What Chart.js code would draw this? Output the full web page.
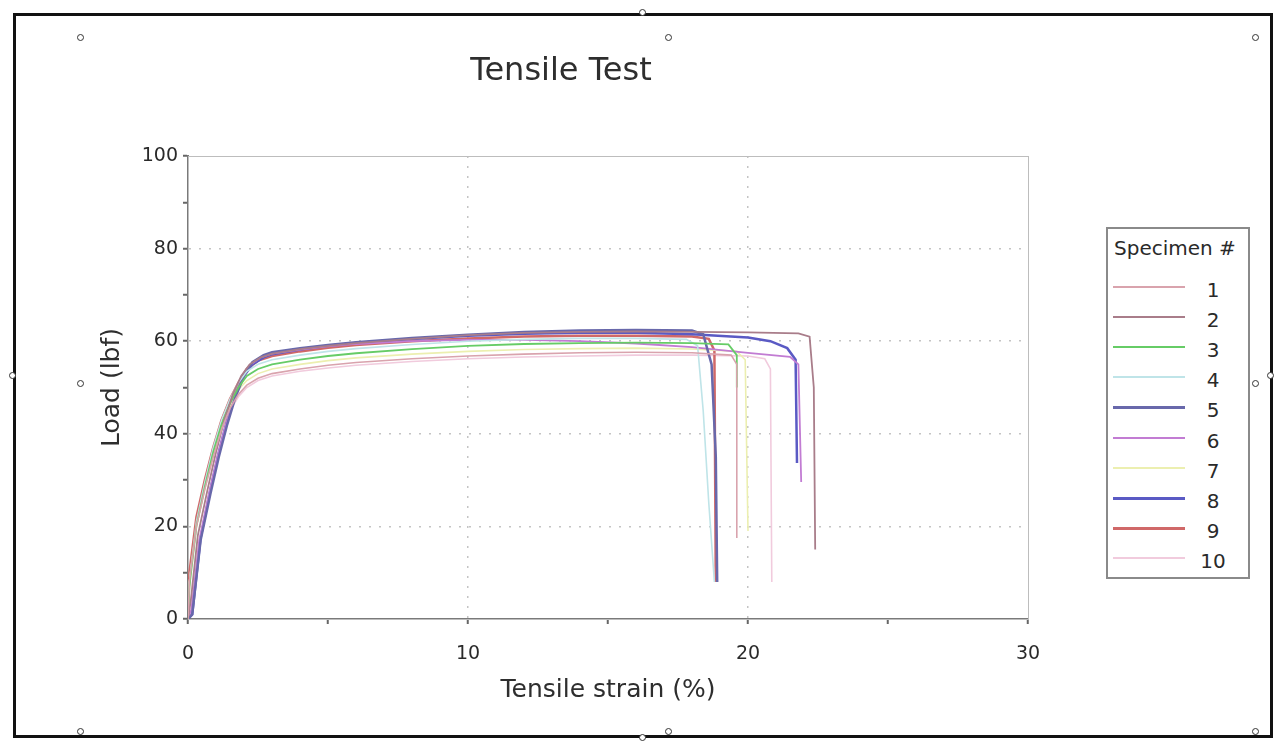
<!DOCTYPE html>
<html>
<head>
<meta charset="utf-8">
<title>Tensile Test</title>
<script src="https://cdn.jsdelivr.net/npm/chart.js@4.4.1/dist/chart.umd.min.js"></script>
<style>
  html, body { margin: 0; padding: 0; background: #fff; }
  body { width: 1286px; height: 750px; position: relative; overflow: hidden; font-family: "DejaVu Sans", sans-serif; }
  #frame { position: absolute; left: 13px; top: 13px; width: 1254px; height: 719px; border: 3px solid #111; }
  #wrap { position: absolute; left: 0; top: 0; width: 1286px; height: 750px; }
  .handle { position: absolute; width: 5px; height: 5px; margin: -4px 0 0 -4px; border: 1.5px solid #333; border-radius: 50%; background: #fff; }
  #legend { position: absolute; left: 1106px; top: 227px; width: 140px; height: 348px; border: 2px solid #8a8a8a; background: #fff; color: #2a2a2a; }
  #legend .ttl { position: absolute; left: 6px; top: 7px; font-size: 20px; white-space: nowrap; }
  #legend .row { position: absolute; left: 0; width: 140px; height: 30px; }
  #legend .ln { position: absolute; left: 5px; width: 72px; top: 11px; }
  #legend .num { position: absolute; left: 88px; width: 34px; top: 3px; text-align: center; font-size: 20px; }
</style>
</head>
<body>
<div id="wrap"><canvas id="chart" width="1286" height="750"></canvas></div>
<div id="frame"></div>
<div id="legend"><div class="ttl">Specimen #</div></div>
<script>
// Specimen curves: strain (%) and load (lbf)
const strain1 = [0, 0.05, 0.3, 0.6, 0.9, 1.2, 1.5, 1.8, 2.1, 2.5, 3, 4, 5, 6, 8, 10, 12, 14, 16, 18, 19.4, 19.6, 19.6];
const load1 = [0, 8, 20, 28, 35, 41, 45.5, 48.5, 50.5, 52, 53, 54, 54.8, 55.4, 56.2, 56.8, 57.2, 57.5, 57.6, 57.5, 57, 55, 17.5];

const strain2 = [0, 0.1, 0.35, 0.7, 1.0, 1.3, 1.6, 1.9, 2.2, 2.6, 3, 4, 5, 6, 8, 10, 12, 14, 16, 18, 20, 21.8, 22.2, 22.35, 22.4];
const load2 = [0, 4, 18, 28, 36, 43, 48.5, 52.5, 55, 56.5, 57.3, 58.3, 59, 59.6, 60.5, 61.3, 61.8, 62, 62.1, 62, 61.9, 61.7, 61, 50, 15];

const strain3 = [0, 0.05, 0.3, 0.6, 0.9, 1.2, 1.5, 1.8, 2.1, 2.5, 3, 4, 5, 6, 8, 10, 12, 14, 16, 18, 19.3, 19.6, 19.6];
const load3 = [0, 7, 20, 28.5, 36, 42, 46.5, 50, 52.5, 54, 55, 56, 56.8, 57.4, 58.3, 59, 59.4, 59.6, 59.7, 59.6, 59.3, 57, 50];

const strain4 = [0, 0.05, 0.3, 0.6, 0.9, 1.2, 1.5, 1.8, 2.1, 2.5, 3, 4, 5, 6, 8, 10, 12, 14, 16, 17.8, 18.2, 18.4, 18.6, 18.8];
const load4 = [0, 8, 21, 29.5, 37, 43, 47.5, 51, 53.5, 55, 56, 57, 57.8, 58.4, 59.3, 60, 60.4, 60.6, 60.6, 60.4, 59, 45, 25, 8];

const strain5 = [0, 0.15, 0.45, 0.8, 1.1, 1.4, 1.7, 2.0, 2.3, 2.7, 3, 4, 5, 6, 8, 10, 12, 14, 16, 18, 18.4, 18.7, 18.85, 18.9];
const load5 = [0, 1, 17, 27, 35, 42, 48, 52.5, 55.5, 57, 57.6, 58.5, 59.2, 59.8, 60.7, 61.4, 62, 62.3, 62.4, 62.3, 61.5, 55, 35, 8];

const strain6 = [0, 0.12, 0.4, 0.75, 1.05, 1.35, 1.65, 1.95, 2.25, 2.6, 3, 4, 5, 6, 8, 10, 12, 14, 16, 18, 20, 21.5, 21.8, 21.9];
const load6 = [0, 2, 17, 27, 35, 42, 47.5, 52, 55, 56.5, 57.3, 58.2, 58.9, 59.4, 60, 60.3, 60.3, 60, 59.5, 58.7, 57.5, 56.6, 55, 29.6];

const strain7 = [0, 0.05, 0.3, 0.6, 0.9, 1.2, 1.5, 1.8, 2.1, 2.5, 3, 4, 5, 6, 8, 10, 12, 14, 16, 18, 19.6, 19.9, 20.0];
const load7 = [0, 8, 20, 28, 35.5, 41.5, 46, 49.5, 51.5, 53, 54, 55, 55.8, 56.4, 57.2, 57.8, 58.2, 58.4, 58.5, 58.3, 57.8, 56, 19];

const strain8 = [0, 0.15, 0.45, 0.8, 1.1, 1.4, 1.7, 2.0, 2.3, 2.7, 3, 4, 5, 6, 8, 10, 12, 14, 16, 18, 20, 20.8, 21.4, 21.7, 21.75];
const load8 = [0, 1, 17.5, 28, 36, 43, 48.5, 52.5, 55, 56.5, 57.2, 58.2, 59, 59.6, 60.5, 61.2, 61.6, 61.8, 61.8, 61.5, 60.8, 60, 58.5, 56, 33.7];

const strain9 = [0, 0.05, 0.3, 0.6, 0.9, 1.2, 1.5, 1.8, 2.1, 2.5, 3, 4, 5, 6, 8, 10, 12, 14, 16, 18, 18.6, 18.8, 18.85];
const load9 = [0, 10, 22, 30, 37, 43, 47.5, 51, 54, 55.8, 56.8, 57.8, 58.6, 59.2, 60, 60.6, 61, 61.2, 61.2, 61, 60.5, 58, 8];

const strain10 = [0, 0.05, 0.3, 0.6, 0.9, 1.2, 1.5, 1.8, 2.1, 2.5, 3, 4, 5, 6, 8, 10, 12, 14, 16, 18, 20, 20.6, 20.8, 20.85];
const load10 = [0, 9, 21, 29, 35.5, 41, 45, 48, 50, 51.5, 52.5, 53.5, 54.2, 54.8, 55.6, 56.2, 56.6, 56.8, 57, 57, 56.8, 56.2, 54, 8];

const specimenNames = ['1', '2', '3', '4', '5', '6', '7', '8', '9', '10'];
const specimenColors = ['#d9a3ad', '#a97d8a', '#66cc66', '#bfe4e8', '#6868ab', '#c27cd3', '#ecefb0', '#5a5ac4', '#d06868', '#f1cbdd'];
const specimenWidths = [1.6, 1.8, 1.8, 1.6, 2.5, 1.8, 1.6, 2.5, 2.5, 1.6];

const strains = [strain1, strain2, strain3, strain4, strain5, strain6, strain7, strain8, strain9, strain10];
const loads = [load1, load2, load3, load4, load5, load6, load7, load8, load9, load10];

const FONT = '"DejaVu Sans", sans-serif';

// light box round the plot (top and right edges)
const plotBox = {
  id: 'plotBox',
  beforeDatasetsDraw(chart) {
    const {ctx, chartArea: a} = chart;
    ctx.save();
    ctx.strokeStyle = '#bdbdbd';
    ctx.lineWidth = 1;
    ctx.strokeRect(a.left + 0.5, a.top + 0.5, a.right - a.left, a.bottom - a.top);
    ctx.restore();
  }
};

const datasets = specimenNames.map((name, k) => ({
  label: name,
  data: strains[k].map((s, i) => ({x: s, y: loads[k][i]})),
  borderColor: specimenColors[k],
  borderWidth: specimenWidths[k],
  pointRadius: 0,
  tension: 0,
  fill: false
}));

const chart = new Chart(document.getElementById('chart'), {
  type: 'line',
  data: { datasets },
  plugins: [plotBox],
  options: {
    responsive: false,
    animation: false,
    devicePixelRatio: 1,
    layout: { padding: { left: 94, right: 258, top: 0, bottom: 0 } },
    plugins: {
      legend: { display: false },
      tooltip: { enabled: false },
      title: {
        display: true,
        text: 'Tensile Test',
        color: '#2e2e2e',
        font: { family: FONT, size: 32, weight: 'normal', lineHeight: 1.2 },
        padding: { top: 52, bottom: 65.6 }
      }
    },
    scales: {
      x: {
        type: 'linear',
        min: 0, max: 30,
        afterFit: s => { s.height = 131; },
        ticks: {
          stepSize: 5,
          padding: 19,
          color: '#2a2a2a',
          font: { family: FONT, size: 19 },
          callback: v => (v % 10 === 0 ? v : '')
        },
        grid: {
          color: c => (c.tick && c.tick.value % 10 === 0 && c.tick.value > 0 && c.tick.value < 30 ? '#c4c4c4' : 'rgba(0,0,0,0)'),
          lineWidth: 1.5,
          tickColor: '#666',
          tickLength: 5,
          tickWidth: 2
        },
        border: { color: '#7a7a7a', width: 2, dash: [2, 8] },
        title: {
          display: true,
          text: 'Tensile strain (%)',
          color: '#2e2e2e',
          font: { family: FONT, size: 25, lineHeight: 1.2 },
          padding: { top: 0, bottom: 45 }
        }
      },
      y: {
        min: 0, max: 100,
        afterFit: s => { s.width = 94; },
        ticks: {
          stepSize: 10,
          padding: 5,
          color: '#2a2a2a',
          font: { family: FONT, size: 19 },
          callback: v => (v % 20 === 0 ? v : '')
        },
        grid: {
          color: c => (c.tick && c.tick.value % 20 === 0 && c.tick.value > 0 && c.tick.value < 100 ? '#c4c4c4' : 'rgba(0,0,0,0)'),
          lineWidth: 1.5,
          tickColor: '#666',
          tickLength: 5,
          tickWidth: 2
        },
        border: { color: '#7a7a7a', width: 2, dash: [2, 8] },
        title: {
          display: true,
          text: 'Load (lbf)',
          color: '#2e2e2e',
          font: { family: FONT, size: 25, lineHeight: 1.2 },
          padding: { top: 3, bottom: 0 }
        }
      }
    }
  }
});

// legend box built from the chart's own datasets
const legend = document.getElementById('legend');
chart.data.datasets.forEach((ds, i) => {
  const row = document.createElement('div');
  row.className = 'row';
  row.style.top = (46 + i * 30.1) + 'px';
  const h = ds.borderWidth > 2 ? 3 : 2;
  row.innerHTML = `<div class="ln" style="height:${h}px;background:${ds.borderColor}"></div><div class="num">${ds.label}</div>`;
  legend.appendChild(row);
});

// selection handles round the picture
const handles = [[643, 13], [13, 376], [1271, 376], [643, 738],
  [81, 38], [669, 38], [1256, 38], [81, 384], [1256, 384], [81, 732], [669, 732], [1256, 732]];
handles.forEach(([x, y]) => {
  const h = document.createElement('div');
  h.className = 'handle';
  h.style.left = x + 'px';
  h.style.top = y + 'px';
  document.body.appendChild(h);
});
</script>
</body>
</html>
